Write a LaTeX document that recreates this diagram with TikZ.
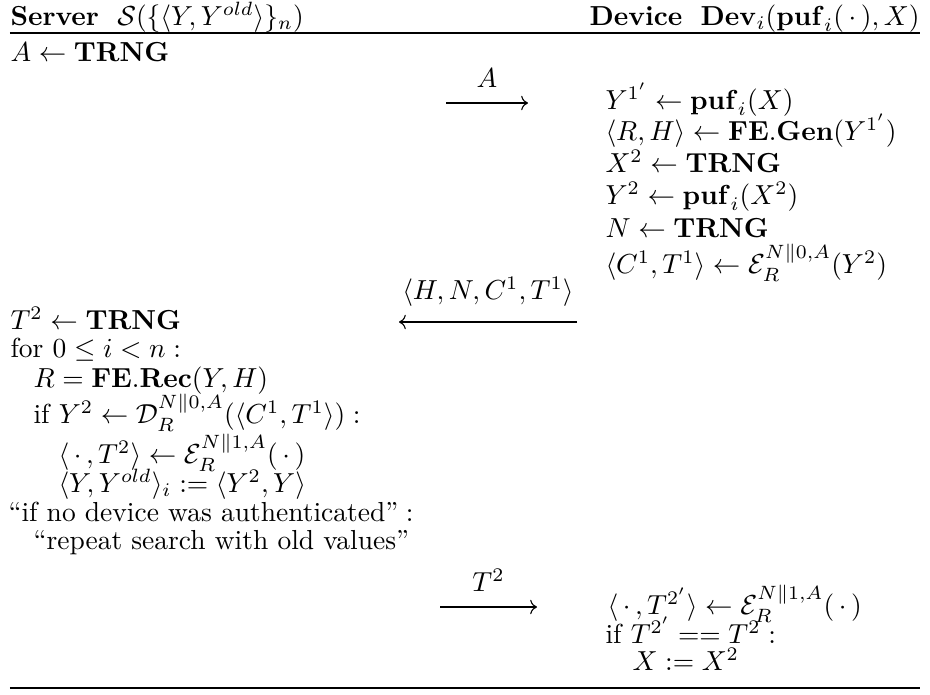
\documentclass[tikz,border=0pt]{standalone}
\usepackage{amsmath}
\usepackage{amssymb}
\usetikzlibrary{arrows.meta,positioning}
\newcommand{\trng}{\mathbf{TRNG}}
\newcommand{\pufi}{\mathbf{puf}_i}
\newcommand{\encR}[1]{\mathcal{E}_R^{N\|#1,A}}
\newcommand{\decR}[1]{\mathcal{D}_R^{N\|#1,A}}

\begin{document}
\begin{tikzpicture}[x=0.3636pt, y=-0.3636pt, >={To},
  ln/.style={anchor=base west,inner sep=0pt}, lnr/.style={anchor=base east,inner sep=0pt},
  msg/.style={->,line width=0.4pt}, hrule/.style={line width=0.7pt}]
  \useasboundingbox (0,0) rectangle (930,694);
  % header
  \node[ln](hsrv) at (10,25){$\textbf{Server}\ \ \mathcal{S}(\{\langle Y,Y^{old}\rangle\}_n)$};
  \node[lnr](hdev) at (920,25){$\textbf{Device}\ \ \mathbf{Dev}_i(\pufi(\,\cdot\,),X)$};
  \coordinate(tl) at (10,33); \coordinate(tr) at (920,33);
  \draw[hrule](tl)--(tr);
  % server, first step
  \node[ln](s0) at (10,61){$A\leftarrow\trng$};
  % message A
  \coordinate(m1a) at (446,103); \coordinate(m1b) at (528,103);
  \draw[msg](m1a)--node[above=2pt](lA){$A$}(m1b);
  % device
  \node[ln](d1) at (605,109){$Y^{1'}\leftarrow\pufi(X)$};
  \node[ln](d2) at (605,140){$\langle R,H\rangle\leftarrow\mathbf{FE.Gen}(Y^{1'})$};
  \node[ln](d3) at (605,172){$X^2\leftarrow\trng$};
  \node[ln](d4) at (605,204){$Y^2\leftarrow\pufi(X^2)$};
  \node[ln](d5) at (605,237){$N\leftarrow\trng$};
  \node[ln](d6) at (605,273){$\langle C^1,T^1\rangle\leftarrow\encR{0}(Y^2)$};
  % message H,N,C,T
  \coordinate(m2a) at (577,322); \coordinate(m2b) at (399,322);
  \draw[msg](m2a)--node[above=2pt](lH){$\langle H,N,C^1,T^1\rangle$}(m2b);
  % server
  \node[ln](s1) at (10,329){$T^2\leftarrow\trng$};
  \node[ln](s2) at (10,357){for $0\leq i<n:$};
  \node[ln](s3) at (33,387){$R=\mathbf{FE}.\mathbf{Rec}(Y,H)$};
  \node[ln](s4) at (33,423){if $Y^2\leftarrow\decR{0}(\langle C^1,T^1\rangle):$};
  \node[ln](s5) at (58,463){$\langle\,\cdot\,,T^2\rangle\leftarrow\encR{1}(\,\cdot\,)$};
  \node[ln](s6) at (58,492){$\langle Y,Y^{old}\rangle_i:=\langle Y^2,Y\rangle$};
  \node[ln](s7) at (8,521){$\text{``if no device was authenticated''}:$};
  \node[ln](s8) at (33,549){$\text{``repeat search with old values''}$};
  % message T2
  \coordinate(m3a) at (440,607); \coordinate(m3b) at (537,607);
  \draw[msg](m3a)--node[above=2pt](lT){$T^2$}(m3b);
  % device
  \node[ln](d7) at (607,614){$\langle\,\cdot\,,T^{2'}\rangle\leftarrow\encR{1}(\,\cdot\,)$};
  \node[ln](d8) at (605,643){if $T^{2'}==T^2:$};
  \node[ln](d9) at (632,670){$X:=X^2$};
  \coordinate(bl) at (10,688); \coordinate(br) at (920,688);
  \draw[hrule](bl)--(br);
\end{tikzpicture}
\end{document}
